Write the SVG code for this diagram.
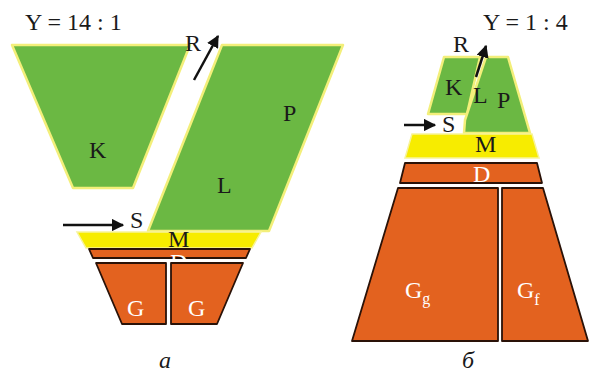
<svg xmlns="http://www.w3.org/2000/svg" width="590" height="372" viewBox="0 0 590 372">
<defs>
<style>
.g{fill:#6bb843;stroke:#f3ef7a;stroke-width:2.5;stroke-linejoin:round}
.y{fill:#f7ec00;stroke:#f7f39a;stroke-width:1.5}
.o{fill:#e3621f;stroke:#2a1208;stroke-width:1.8;stroke-linejoin:round}
.t{font-family:"Liberation Serif","Times New Roman",serif;font-size:24px;fill:#1a1a1a}
.w{fill:#ffffff}
.i{font-style:italic}
.a{stroke:#111;stroke-width:2.5;fill:none}
</style>
<marker id="ah" viewBox="0 0 10 10" refX="9" refY="5" markerWidth="5" markerHeight="5" markerUnits="strokeWidth" orient="auto">
<path d="M0,0 L10,5 L0,10 Z" fill="#111"/>
</marker>
</defs>
<rect width="590" height="372" fill="#ffffff"/>

<g id="left">
<g id="a-K"><polygon class="g" points="12,45 190,45 133,188 73,188"/><text class="t" x="89" y="158">K</text></g>
<g id="a-LP"><polygon class="g" points="222,45 343,45 269,231 148,231"/><text class="t" x="217" y="193">L</text><text class="t" x="283" y="121">P</text></g>
<g id="a-M"><polygon class="y" points="77,232 261,232 252,248 86,248"/><text class="t" x="168" y="247">M</text></g>
<g id="a-D"><polygon class="o" points="89,249 250,249 246,258 93,258"/><text class="t w" x="170" y="270">D</text></g>
<g id="a-G1"><polygon class="o" points="96,263 166,263 166,324 122,324"/><text class="t w" x="127" y="316">G</text></g>
<g id="a-G2"><polygon class="o" points="171,263 243,263 217,324 171,324"/><text class="t w" x="188" y="316">G</text></g>
<text class="t" x="25" y="30">Y = 14 : 1</text>
<text class="t" x="185" y="51">R</text>
<text class="t" x="130" y="228">S</text>
<text class="t i" x="159" y="368">а</text>
</g>

<g id="right">
<g id="b-K"><polygon class="g" points="444,57 480,57 467,114 428,114"/><text class="t" x="445" y="95">K</text></g>
<g id="b-LP"><polygon class="g" points="486,57 508,57 530,133 464,133 465,120"/><text class="t" x="473" y="103">L</text><text class="t" x="497" y="108">P</text></g>
<g id="b-M"><polygon class="y" points="412,134 532,134 539,158 405,158"/><text class="t" x="475" y="152">M</text></g>
<g id="b-D"><polygon class="o" points="405,163 537,163 542,183 400,183"/><text class="t w" x="473" y="182">D</text></g>
<g id="b-Gg"><polygon class="o" points="398,188 498,188 498,341 352,341"/><text class="t w" x="405" y="298">G<tspan font-size="16" dy="6">g</tspan></text></g>
<g id="b-Gf"><polygon class="o" points="502,188 543,188 588,341 502,341"/><text class="t w" x="517" y="298">G<tspan font-size="16" dy="7">f</tspan></text></g>
<text class="t" x="483" y="30">Y = 1 : 4</text>
<text class="t" x="453" y="52">R</text>
<text class="t" x="442" y="132">S</text>
<text class="t i" x="462" y="368">б</text>
</g>

<g id="connectors">
<line class="a" x1="194" y1="80" x2="218" y2="36" marker-end="url(#ah)"/>
<line class="a" x1="63" y1="225" x2="123" y2="225" marker-end="url(#ah)"/>
<line class="a" x1="476" y1="77" x2="486" y2="46" marker-end="url(#ah)"/>
<line class="a" x1="404" y1="125" x2="435" y2="125" marker-end="url(#ah)"/>
</g>
</svg>
